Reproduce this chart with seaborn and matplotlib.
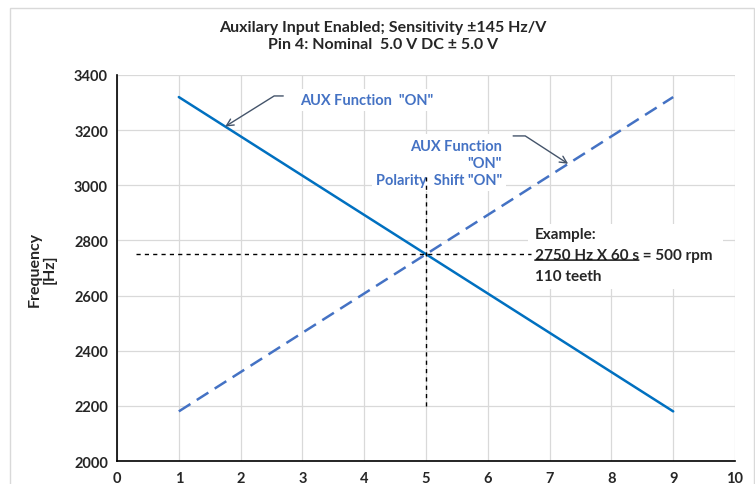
import numpy as np
import matplotlib
matplotlib.use("Agg")
import matplotlib.pyplot as plt
import seaborn as sns
import pandas as pd
from matplotlib.ticker import MultipleLocator
from matplotlib.patches import Rectangle

# data
voltage = [1, 9]
freq_aux_on = [3320, 2180]
freq_polarity_shift = [2180, 3320]
nominal_v = 5
nominal_hz = 2750

title_lines = ["Auxilary Input Enabled; Sensitivity \u00b1145 Hz/V",
               "Pin 4: Nominal  5.0 V DC \u00b1 5.0 V"]
ylabel = "Frequency\n[Hz]"

sns.set_style("white")
plt.rcParams['font.family'] = ['Lato', 'DejaVu Sans']

df = pd.DataFrame({"V": voltage, "aux": freq_aux_on, "pol": freq_polarity_shift})

fig = plt.figure(figsize=(7.55, 4.85), dpi=100)
ax = fig.add_axes([0.155, 0.0474, 0.8185, 0.7959])

blue = "#0070C0"
blue2 = "#4472C4"
arrow_c = "#44546A"

sns.lineplot(data=df, x="V", y="aux", ax=ax, color=blue, lw=1.8, zorder=3)
sns.lineplot(data=df, x="V", y="pol", ax=ax, color=blue2, lw=1.8, zorder=3,
             dashes=False)
ax.lines[-1].set_dashes((5.5, 3))

# crosshair at nominal point
ax.plot([0.3, 6.7], [nominal_hz, nominal_hz], color="black", lw=1,
        dashes=(3, 3), zorder=5)
ax.plot([nominal_v, nominal_v], [2200, 3030], color="black", lw=1,
        dashes=(3, 3), zorder=6)

ax.set_xlim(0, 10)
ax.set_ylim(2000, 3400)
ax.xaxis.set_major_locator(MultipleLocator(1))
ax.xaxis.set_minor_locator(MultipleLocator(0.2))
ax.yaxis.set_major_locator(MultipleLocator(200))
ax.yaxis.set_minor_locator(MultipleLocator(50))
ax.grid(True, which="major", color="#D9D9D9", lw=0.9)
ax.set_axisbelow(True)
for s in ["top", "right"]:
    ax.spines[s].set_visible(False)
for s in ["left", "bottom"]:
    ax.spines[s].set_color("black")
    ax.spines[s].set_linewidth(1.2)
ax.tick_params(which="major", direction="inout", length=7, width=1.2,
               labelsize=10.5, pad=3, color="black")
ax.tick_params(which="minor", direction="out", length=3.5, width=1.0,
               color="black")
ax.tick_params(axis="x", which="major", pad=4)
for lab in ax.get_xticklabels() + ax.get_yticklabels():
    lab.set_fontweight("bold")
ax.set_xlabel("")
ax.set_ylabel(ylabel, fontsize=11.5, fontweight="bold", va="center",
              linespacing=1.1)
ax.yaxis.set_label_coords(-0.121, 0.5)

# title
fig.text(0.507, 0.925, "\n".join(title_lines), ha="center", va="center",
         fontsize=11.5, fontweight="bold", linespacing=1.3)

# annotation 1 (solid line)
ax.text(2.96, 3309, 'AUX Function  "ON"', color=blue2, fontsize=10.5,
        fontweight="bold", ha="left", va="center", zorder=4,
        bbox=dict(facecolor="white", edgecolor="none", pad=3))
ax.annotate("", xy=(1.75, 3213), xytext=(2.69, 3324),
            arrowprops=dict(arrowstyle="->,head_length=0.5,head_width=0.25",
                            connectionstyle="angle,angleA=0,angleB=32,rad=0",
                            color=arrow_c, lw=1, shrinkA=0, shrinkB=0),
            zorder=7)

# annotation 2 (dashed line)
ax.text(6.23, 3081, 'AUX Function\n"ON"\nPolarity  Shift "ON"', color=blue2,
        fontsize=10.5, fontweight="bold", ha="right", va="center",
        linespacing=1.3, zorder=4,
        bbox=dict(facecolor="white", edgecolor="none", pad=3))
ax.annotate("", xy=(7.3, 3078), xytext=(6.41, 3179),
            arrowprops=dict(arrowstyle="->,head_length=0.5,head_width=0.25",
                            connectionstyle="angle,angleA=0,angleB=-33,rad=0",
                            color=arrow_c, lw=1, shrinkA=0, shrinkB=0),
            zorder=7)

# example box
ax.add_patch(Rectangle((6.65, 2625), 3.15, 235, facecolor="white",
                       edgecolor="none", zorder=4))
ax.text(6.76, 2823, "Example:", fontsize=11, fontweight="bold",
        ha="left", va="center", zorder=5)
t = ax.text(6.76, 2747, "2750 Hz X 60 s", fontsize=11, fontweight="bold",
            ha="left", va="center", zorder=5)
ax.annotate(" = 500 rpm", xy=(1, 0.5), xycoords=t, fontsize=11,
            fontweight="bold", ha="left", va="center", zorder=5)
ax.annotate("", xy=(0, 0.14), xycoords=t, xytext=(1, 0.14), textcoords=t,
            arrowprops=dict(arrowstyle="-", color="black", lw=1,
                            shrinkA=0, shrinkB=0), zorder=5)
ax.text(6.76, 2671, "110 teeth", fontsize=11, fontweight="bold",
        ha="left", va="center", zorder=5)

# chart area border
fig.patches.append(Rectangle((0.0132, -0.02), 0.985, 1.001, transform=fig.transFigure,
                             facecolor="none", edgecolor="#D9D9D9", lw=1))

fig.savefig("out.png", dpi=100)
